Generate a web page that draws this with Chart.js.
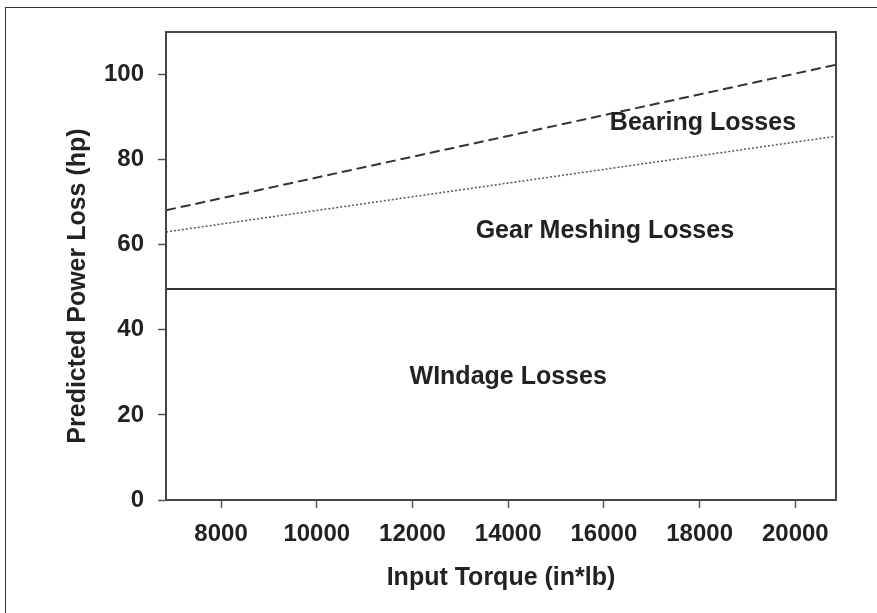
<!DOCTYPE html>
<html>
<head>
<meta charset="utf-8">
<script src="https://cdn.jsdelivr.net/npm/chart.js@4/dist/chart.umd.min.js"></script>
<style>
  html, body { margin: 0; padding: 0; background: #fff; }
  #wrap { position: relative; width: 877px; height: 613px; }
  #frame {
    position: absolute; left: 5px; top: 7px; right: 0; bottom: 0;
    border-top: 1.5px solid #333; border-left: 1.5px solid #333;
  }
  canvas { position: absolute; left: 0; top: 0; }
</style>
</head>
<body>
<div id="wrap">
  <div id="frame"></div>
  <canvas id="chartLosses" width="877" height="613"></canvas>
</div>
<script>
  // values
  const torque = [6850, 20850];
  const bearingTotal = [68.1, 102.3];
  const gearTotal = [63.0, 85.5];
  const windageTotal = [49.6, 49.6];
  const xTicks = [8000, 10000, 12000, 14000, 16000, 18000, 20000];
  const yTicks = [0, 20, 40, 60, 80, 100];
  const regionLabels = ["Bearing Losses", "Gear Meshing Losses", "WIndage Losses"];
  const regionLabelX = [18070, 16020, 14000];
  const regionLabelY = [88.6, 63.2, 28.9];

  const FONT = "'Liberation Sans', Arial, Helvetica, sans-serif";
  const INK = "#222";

  function points(ys) {
    return torque.map((x, i) => ({ x: x, y: ys[i] }));
  }

  const plotFrame = {
    id: "plotFrame",
    afterDraw(chart) {
      const { ctx, chartArea: a } = chart;
      ctx.save();
      ctx.strokeStyle = "#444";
      ctx.lineWidth = 2;
      ctx.strokeRect(a.left, a.top, a.right - a.left, a.bottom - a.top);
      ctx.restore();
    },
  };

  const regionText = {
    id: "regionText",
    afterDatasetsDraw(chart) {
      const { ctx, scales } = chart;
      ctx.save();
      ctx.fillStyle = INK;
      ctx.font = "bold 25px " + FONT;
      ctx.textAlign = "center";
      ctx.textBaseline = "middle";
      regionLabels.forEach((t, i) => {
        ctx.fillText(t, scales.x.getPixelForValue(regionLabelX[i]), scales.y.getPixelForValue(regionLabelY[i]));
      });
      ctx.restore();
    },
  };

  const yTitle = {
    id: "yTitle",
    afterDraw(chart) {
      const { ctx, chartArea: a } = chart;
      ctx.save();
      ctx.fillStyle = INK;
      ctx.font = "bold 25px " + FONT;
      ctx.textAlign = "center";
      ctx.textBaseline = "middle";
      ctx.translate(78, (a.top + a.bottom) / 2 + 20);
      ctx.rotate(-Math.PI / 2);
      ctx.fillText("Predicted Power Loss (hp)", 0, 0);
      ctx.restore();
    },
  };

  new Chart(document.getElementById("chartLosses"), {
    type: "line",
    data: {
      datasets: [
        {
          label: "Bearing",
          data: points(bearingTotal),
          borderColor: "#333",
          borderWidth: 2,
          borderDash: [10, 5],
          pointRadius: 0,
        },
        {
          label: "Gear meshing",
          data: points(gearTotal),
          borderColor: "#555",
          borderWidth: 1.5,
          borderDash: [2, 2],
          pointRadius: 0,
        },
        {
          label: "Windage",
          data: points(windageTotal),
          borderColor: "#333",
          borderWidth: 2,
          pointRadius: 0,
        },
      ],
    },
    options: {
      responsive: false,
      animation: false,
      devicePixelRatio: 1,
      layout: { padding: { left: 10, top: 32, right: 41, bottom: 13 } },
      plugins: { legend: { display: false }, tooltip: { enabled: false } },
      scales: {
        x: {
          type: "linear",
          min: torque[0],
          max: torque[1],
          afterBuildTicks: (s) => { s.ticks = xTicks.map((v) => ({ value: v })); },
          afterFit: (s) => { s.height = 100; },
          ticks: {
            autoSkip: false,
            maxRotation: 0,
            padding: 12,
            color: INK,
            font: { family: FONT, size: 24, weight: "bold" },
            callback: (v) => String(v),
          },
          grid: { drawOnChartArea: false, tickLength: 8, tickColor: "#555", tickWidth: 1.5 },
          border: { color: "#444", width: 2 },
          title: {
            display: true,
            text: "Input Torque (in*lb)",
            color: INK,
            font: { family: FONT, size: 25, weight: "bold" },
            padding: { top: 0, bottom: 7 },
          },
        },
        y: {
          min: 0,
          max: 110,
          afterBuildTicks: (s) => { s.ticks = yTicks.map((v) => ({ value: v })); },
          afterFit: (s) => { s.width = 156; },
          ticks: {
            padding: 14,
            color: INK,
            font: { family: FONT, size: 24, weight: "bold" },
          },
          grid: { drawOnChartArea: false, tickLength: 8, tickColor: "#555", tickWidth: 1.5 },
          border: { color: "#444", width: 2 },
        },
      },
    },
    plugins: [plotFrame, regionText, yTitle],
  });
</script>
</body>
</html>
